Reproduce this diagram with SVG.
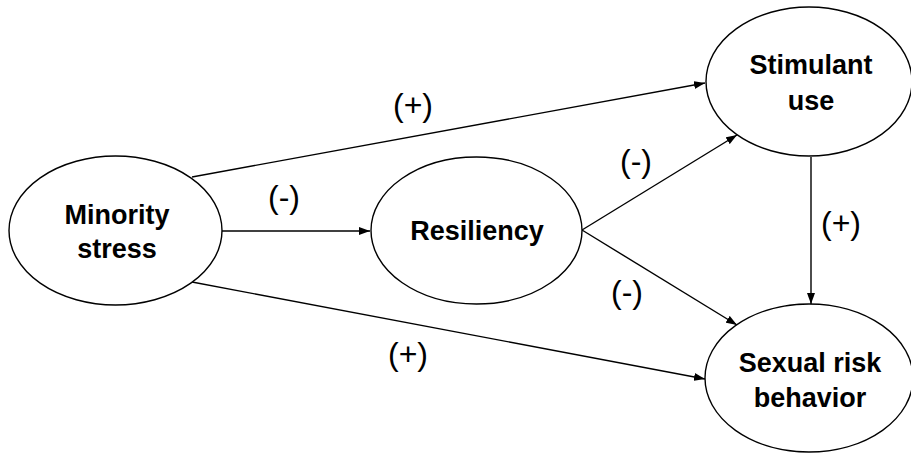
<svg xmlns="http://www.w3.org/2000/svg" width="911" height="456" viewBox="0 0 911 456">
<defs>
<marker id="arrow" markerWidth="11" markerHeight="8" refX="11" refY="4" orient="auto" markerUnits="userSpaceOnUse">
<path d="M0,0 L11,4 L0,8 z" fill="#000"/>
</marker>
<style>
.node ellipse{fill:#fff;stroke:#000;stroke-width:1.4}
.node text{font-family:"Liberation Sans",Arial,sans-serif;font-weight:bold;font-size:27px;fill:#000;text-anchor:middle}
.edges line{stroke:#000;stroke-width:1.4;marker-end:url(#arrow)}
.lbl{font-family:"Liberation Sans",Arial,sans-serif;font-size:32px;fill:#000;text-anchor:middle}
</style>
</defs>
<rect width="911" height="456" fill="#fff"/>
<g class="edges">
<line x1="192" y1="177" x2="705" y2="83"/>
<line x1="222" y1="231" x2="370" y2="231"/>
<line x1="192" y1="282" x2="705" y2="379"/>
<line x1="582" y1="230" x2="737" y2="135"/>
<line x1="582" y1="230" x2="737" y2="325"/>
<line x1="811" y1="157" x2="811" y2="304"/>
</g>
<g id="edge-labels">
<text class="lbl" x="413" y="116">(+)</text>
<text class="lbl" x="284" y="208">(-)</text>
<text class="lbl" x="636" y="172">(-)</text>
<text class="lbl" x="627" y="303">(-)</text>
<text class="lbl" x="408" y="365">(+)</text>
<text class="lbl" x="841" y="234">(+)</text>
</g>
<g id="minority-stress" class="node">
<ellipse cx="115.5" cy="230.5" rx="106.5" ry="74.5"/>
<text x="117" y="224">Minority</text>
<text x="117" y="258">stress</text>
</g>
<g id="resiliency" class="node">
<ellipse cx="476.5" cy="230.5" rx="105.5" ry="73.5"/>
<text x="477" y="240">Resiliency</text>
</g>
<g id="stimulant-use" class="node">
<ellipse cx="809" cy="81.5" rx="103" ry="74.5"/>
<text x="811" y="74">Stimulant</text>
<text x="811" y="110">use</text>
</g>
<g id="sexual-risk-behavior" class="node">
<ellipse cx="809" cy="378" rx="104" ry="74"/>
<text x="810" y="372">Sexual risk</text>
<text x="810" y="407">behavior</text>
</g>
</svg>
